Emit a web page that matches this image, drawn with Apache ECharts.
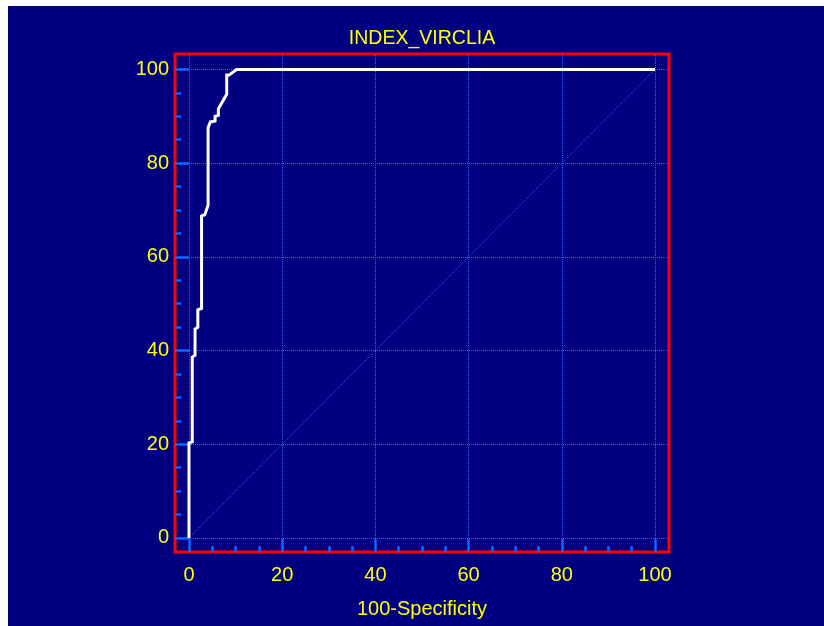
<!DOCTYPE html>
<html>
<head>
<meta charset="utf-8">
<script src="https://cdn.jsdelivr.net/npm/echarts@6/dist/echarts.min.js"></script>
<style>
  html, body { margin: 0; padding: 0; background: #ffffff; }
  #chart { position: absolute; left: 8px; top: 6px; width: 816px; height: 620px; }
</style>
</head>
<body>
<div id="chart"></div>
<script>
// ROC curve for INDEX_VIRCLIA: 100-Specificity (x) vs Sensitivity (y)
const specComplement = [0, 0, 0.7, 0.7, 1.3, 1.3, 1.9, 1.9, 2.7, 2.7, 3.4, 4.1, 4.1, 4.6, 5.6, 5.6, 6.3, 6.3, 8.1, 8.1, 8.6, 10.2, 100];
const sensitivity    = [0, 20.3, 20.5, 38.6, 39.0, 44.6, 45.0, 48.7, 49.0, 68.7, 69.0, 71.0, 87.6, 88.8, 89.0, 90.0, 90.2, 91.6, 94.7, 98.8, 98.8, 100, 100];

// Reference diagonal (chance line)
const diagX = [0, 100];
const diagY = [0, 100];

// Tick values
const majorTicks = [0, 20, 40, 60, 80, 100];
const minorTicks = [5, 10, 15, 25, 30, 35, 45, 50, 55, 65, 70, 75, 85, 90, 95];

const titleText = 'INDEX_VIRCLIA';
const xAxisName = '100-Specificity';

const FONT = "'Liberation Sans', Arial, sans-serif";
const YELLOW = '#ffff00';
const TICK_BLUE = '#0a64ff';
const GRID_BLUE = '#2f62ff';

const X_MIN = -3, X_MAX = 103;
const Y_MIN = -3, Y_MAX = 103.3;

const chart = echarts.init(document.getElementById('chart'), null, { renderer: 'canvas' });

function axisBase(extra) {
  return Object.assign({
    type: 'value',
    gridIndex: 0,
    axisLine: { show: false, onZero: false },
    splitLine: { show: false }
  }, extra);
}

const curveData = specComplement.map((x, i) => [x, sensitivity[i]]);
const diagData = diagX.map((x, i) => [x, diagY[i]]);

chart.setOption({
  backgroundColor: '#000080',
  animation: false,
  graphic: [{
    type: 'text',
    x: 414,
    y: 33,
    style: {
      text: titleText,
      fill: YELLOW,
      font: '19.5px ' + FONT,
      textAlign: 'center',
      textVerticalAlign: 'middle'
    }
  }],
  grid: {
    left: 167, top: 48, width: 494, height: 498,
    show: true,
    borderColor: '#ff0000',
    borderWidth: 3,
    backgroundColor: 'transparent'
  },
  xAxis: [
    axisBase({
      position: 'bottom',
      min: X_MIN, max: X_MAX,
      axisTick: { show: true, inside: true, length: 6, customValues: minorTicks, lineStyle: { color: TICK_BLUE, width: 2.5 } },
      axisLabel: { show: false }
    }),
    axisBase({
      position: 'bottom',
      min: X_MIN, max: X_MAX,
      name: xAxisName,
      nameLocation: 'middle',
      nameGap: 47,
      nameTextStyle: { color: YELLOW, fontSize: 20, fontFamily: FONT },
      axisTick: { show: true, inside: true, length: 13, customValues: majorTicks, lineStyle: { color: TICK_BLUE, width: 2.5 } },
      axisLabel: { show: true, customValues: majorTicks, color: YELLOW, fontSize: 20, fontFamily: FONT, margin: 13 }
    })
  ],
  yAxis: [
    axisBase({
      position: 'left',
      min: Y_MIN, max: Y_MAX,
      axisTick: { show: true, inside: true, length: 6, customValues: minorTicks, lineStyle: { color: TICK_BLUE, width: 2.5 } },
      axisLabel: { show: false }
    }),
    axisBase({
      position: 'left',
      min: Y_MIN, max: Y_MAX,
      axisTick: { show: true, inside: true, length: 14, customValues: majorTicks, lineStyle: { color: TICK_BLUE, width: 2.5 } },
      axisLabel: { show: true, customValues: majorTicks, color: YELLOW, fontSize: 20, fontFamily: FONT, margin: 6 }
    })
  ],
  series: [
    {
      type: 'line',
      xAxisIndex: 0, yAxisIndex: 0,
      data: diagData,
      showSymbol: false,
      silent: true,
      z: 2,
      lineStyle: { color: GRID_BLUE, width: 1, type: [1, 1] },
      markLine: {
        silent: true,
        symbol: 'none',
        label: { show: false },
        lineStyle: { color: GRID_BLUE, width: 1, type: [1, 1] },
        data: majorTicks.map(v => ({ xAxis: v })).concat(majorTicks.map(v => ({ yAxis: v })))
      }
    },
    {
      type: 'line',
      xAxisIndex: 0, yAxisIndex: 0,
      data: curveData,
      showSymbol: false,
      silent: true,
      z: 5,
      lineStyle: { color: '#ffffff', width: 3, join: 'miter' }
    }
  ]
});
</script>
</body>
</html>
